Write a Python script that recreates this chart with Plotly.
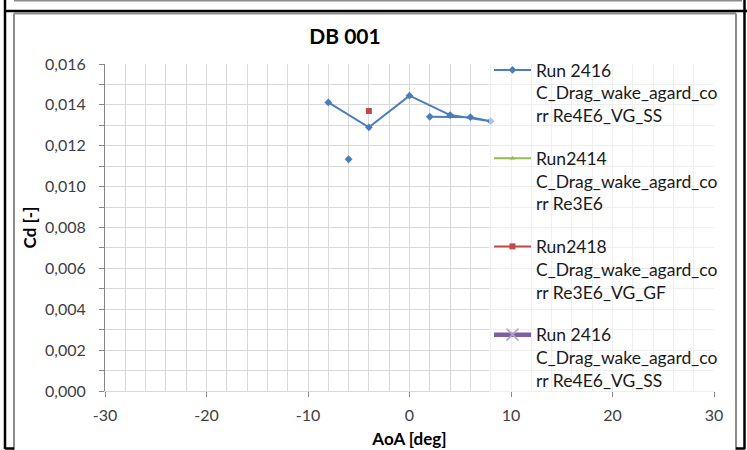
import plotly.graph_objects as go

# ---- data -------------------------------------------------------------
# Run 2416, Re4E6, VG SS (points in sheet order; None breaks the line)
aoa_2416 = [-8, -4, 0, 4, 8, 6, 2, None, -6]
cd_2416 = [0.01412, 0.0129, 0.01445, 0.0135, 0.0132, 0.0134, 0.01342, None, 0.01134]

# Run2414, Re3E6 (no values in range)
aoa_2414 = [None]
cd_2414 = [None]

# Run2418, Re3E6, VG GF
aoa_2418 = [-4]
cd_2418 = [0.0137]

# Run 2416 reference series (no values in range)
aoa_2416_ref = [None]
cd_2416_ref = [None]

names = [
    "Run 2416<br>C_Drag_wake_agard_co<br>rr Re4E6_VG_SS",
    "Run2414<br>C_Drag_wake_agard_co<br>rr Re3E6",
    "Run2418<br>C_Drag_wake_agard_co<br>rr Re3E6_VG_GF",
    "Run 2416<br>C_Drag_wake_agard_co<br>rr Re4E6_VG_SS",
]
x_ticks = [-30, -20, -10, 0, 10, 20, 30]
y_ticks = [0.000, 0.002, 0.004, 0.006, 0.008, 0.010, 0.012, 0.014, 0.016]

# ---- geometry (pixels) --------------------------------------------------
W, H = 747, 450
PL, PR, PT, PB = 105, 714, 64, 391  # plot area edges

FONT = "Lato"
TXT = "#404040"


def px_x(p):
    return (p - PL) / (PR - PL)


def px_y(p):
    return (PB - p) / (PB - PT)


fig = go.Figure()

fig.add_trace(go.Scatter(
    x=aoa_2416, y=cd_2416, name=names[0], mode="lines+markers",
    line=dict(color="#4a7ebb", width=2),
    marker=dict(symbol="diamond", size=6, color="#4a7ebb"),
    connectgaps=False, legendgroup="a",
))
fig.add_trace(go.Scatter(
    x=aoa_2414, y=cd_2414, name=names[1], mode="lines+markers",
    line=dict(color="#98b954", width=2),
    marker=dict(symbol="triangle-up", size=5, color="#98b954"),
    legendgroup="b",
))
fig.add_trace(go.Scatter(
    x=aoa_2418, y=cd_2418, name=names[2], mode="lines+markers",
    line=dict(color="#be4b48", width=2),
    marker=dict(symbol="square", size=6, color="#be4b48"),
    legendgroup="c",
))
fig.add_trace(go.Scatter(
    x=aoa_2416_ref, y=cd_2416_ref, name=names[3], mode="lines+markers",
    line=dict(color="#7d60a0", width=4.5),
    marker=dict(symbol="x-thin", size=12, color="#b3a2c7",
                line=dict(color="#b3a2c7", width=1.5)),
    legendgroup="d",
))

shapes = []
# faded band behind the legend
shapes.append(dict(type="rect", xref="paper", yref="paper",
                   x0=px_x(489), x1=1.0, y0=px_y(392), y1=px_y(58),
                   fillcolor="rgba(255,255,255,0.55)", line=dict(width=0),
                   layer="above"))
# chart-area border (left, top, right; bottom edge runs off the page)
for (x0, y0, x1, y1) in [(14, 13.5, 14, 452), (14, 13.5, 736, 13.5),
                         (736, 13.5, 736, 452)]:
    shapes.append(dict(type="line", xref="paper", yref="paper",
                       x0=px_x(x0), x1=px_x(x1), y0=px_y(y0), y1=px_y(y1),
                       line=dict(color="#8c8c8c", width=2)))
# bottom edge of the chart above
shapes.append(dict(type="line", xref="paper", yref="paper",
                   x0=px_x(14), x1=px_x(742), y0=px_y(0.5), y1=px_y(0.5),
                   line=dict(color="#8c8c8c", width=2)))
# surrounding table cell borders
for (x0, y0, x1, y1) in [(5, 0, 5, 449), (744.5, 0, 744.5, 449),
                         (5, 11, 747, 11), (5, 448.5, 14, 448.5),
                         (736, 448.5, 745, 448.5)]:
    shapes.append(dict(type="line", xref="paper", yref="paper",
                       x0=px_x(x0), x1=px_x(x1), y0=px_y(y0), y1=px_y(y1),
                       line=dict(color="#000000", width=2.5)))

fig.update_layout(
    width=W, height=H,
    margin=dict(l=PL, r=W - PR, t=PT, b=H - PB, autoexpand=False),
    paper_bgcolor="white", plot_bgcolor="white",
    separators=", ",
    font=dict(family=FONT, size=16, color=TXT),
    title=dict(text="<b>DB 001</b>", x=345 / W, xref="container", xanchor="center",
               y=1 - 37 / H, yref="container", yanchor="middle",
               font=dict(family=FONT, size=21, color="#000000")),
    showlegend=True,
    legend=dict(x=px_x(489), xanchor="left", y=px_y(52), yanchor="top",
                bgcolor="rgba(0,0,0,0)", borderwidth=0,
                font=dict(family=FONT, size=17.5, color="#1a1a1a"),
                valign="top", tracegroupgap=17, itemwidth=37,
                maxheight=1.0),
    shapes=shapes,
)

fig.update_xaxes(
    range=[-30, 30], tickmode="array", tickvals=x_ticks,
    ticktext=[str(v) for v in x_ticks],
    showgrid=True, gridcolor="#d9d9d9", gridwidth=1,
    minor=dict(dtick=2, showgrid=True, gridcolor="#d9d9d9", gridwidth=1),
    showline=True, linecolor="#d9d9d9", linewidth=1,
    ticks="outside", ticklen=5, tickcolor="#868686",
    ticklabelstandoff=5,
    tickfont=dict(family=FONT, size=16, color=TXT),
    zeroline=False,
    title=dict(text="<b>AoA [deg]</b>", standoff=9,
               font=dict(family=FONT, size=17, color="#000000")),
)
fig.update_yaxes(
    range=[0, 0.016], tickmode="array", tickvals=y_ticks,
    tickformat=".3f",
    showgrid=True, gridcolor="#d9d9d9", gridwidth=1,
    minor=dict(dtick=0.001, showgrid=True, gridcolor="#d9d9d9", gridwidth=1,
               ticks="outside", ticklen=5, tickcolor="#868686"),
    showline=True, linecolor="#868686", linewidth=1,
    ticks="outside", ticklen=5, tickcolor="#868686",
    ticklabelstandoff=10,
    tickfont=dict(family=FONT, size=16, color=TXT),
    zeroline=False,
    title=dict(text="<b>Cd [-]</b>", standoff=4,
               font=dict(family=FONT, size=17, color="#000000")),
)

fig.write_html("out.html")
